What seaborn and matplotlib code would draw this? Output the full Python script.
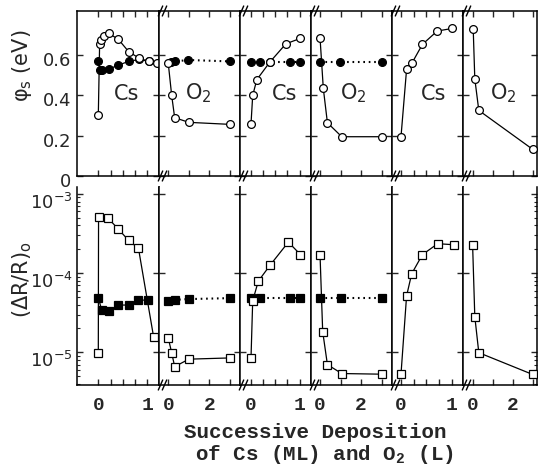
import numpy as np
import pandas as pd
import matplotlib
matplotlib.use("Agg")
import matplotlib.pyplot as plt
from matplotlib.lines import Line2D
from matplotlib.transforms import ScaledTranslation
import seaborn as sns

# ---------------- data ----------------
stage_names = ["Cs", "O2", "Cs", "O2", "Cs", "O2"]
cs_ticks = [0, 0.25, 0.5, 0.75, 1.0]
cs_tick_labels = ["0", "", "", "", "1"]
o2_ticks = [0, 1, 2, 3]
o2_tick_labels = ["0", "", "2", ""]

# top row: surface work-function change phi_s (eV) -- open circles
phi_open_x = [
    [0, 0.027, 0.06, 0.12, 0.21, 0.41, 0.62, 0.84, 1.03, 1.20],
    [0, 0.165, 0.31, 1.0, 3.0],
    [0, 0.035, 0.12, 0.39, 0.72, 1.02],
    [0, 0.16, 0.36, 1.06, 3.0],
    [0, 0.11, 0.22, 0.42, 0.71, 1.01],
    [0.03, 0.11, 0.31, 3.0],
]
phi_open_y = [
    [0.30, 0.653, 0.672, 0.693, 0.705, 0.675, 0.614, 0.581, 0.566, 0.556],
    [0.556, 0.398, 0.288, 0.265, 0.255],
    [0.258, 0.398, 0.476, 0.563, 0.653, 0.680],
    [0.683, 0.433, 0.263, 0.194, 0.194],
    [0.193, 0.527, 0.560, 0.650, 0.716, 0.729],
    [0.728, 0.480, 0.324, 0.132],
]
# top row: filled circles
phi_fill_x = [
    [0, 0.04, 0.08, 0.21, 0.41, 0.62, 0.84, 1.03],
    [0.13, 0.33, 0.97, 3.0],
    [0, 0.19, 0.39, 0.80, 1.0],
    [0, 0.98, 3.0],
    [],
    [],
]
phi_fill_y = [
    [0.566, 0.523, 0.525, 0.527, 0.548, 0.566, 0.576, 0.566],
    [0.563, 0.566, 0.573, 0.566],
    [0.563, 0.563, 0.563, 0.563, 0.563],
    [0.563, 0.563, 0.563],
    [],
    [],
]

# bottom row: (dR/R)_0 -- open squares
dr_open_x = [
    [0, 0.005, 0.19, 0.41, 0.62, 0.82, 1.13],
    [0, 0.165, 0.31, 1.0, 3.0],
    [0, 0.035, 0.15, 0.39, 0.77, 1.02],
    [0, 0.13, 0.36, 1.06, 3.0],
    [0, 0.11, 0.21, 0.42, 0.72, 1.03],
    [0, 0.11, 0.31, 3.0],
]
dr_open_y = [
    [9.9e-6, 5.16e-4, 5.0e-4, 3.58e-4, 2.58e-4, 2.05e-4, 1.55e-5],
    [1.51e-5, 9.9e-6, 6.6e-6, 8.2e-6, 8.5e-6],
    [8.5e-6, 4.47e-5, 7.9e-5, 1.25e-4, 2.46e-4, 1.71e-4],
    [1.71e-4, 1.83e-5, 7.0e-6, 5.4e-6, 5.3e-6],
    [5.26e-6, 5.16e-5, 9.8e-5, 1.71e-4, 2.35e-4, 2.28e-4],
    [2.28e-4, 2.82e-5, 9.9e-6, 5.26e-6],
]
# bottom row: filled squares
dr_fill_x = [
    [0, 0.07, 0.21, 0.41, 0.62, 0.82, 1.02],
    [0, 0.33, 1.0, 3.0],
    [0, 0.19, 0.80, 1.02],
    [0, 1.0, 3.0],
    [],
    [],
]
dr_fill_y = [
    [4.9e-5, 3.4e-5, 3.3e-5, 3.95e-5, 3.95e-5, 4.56e-5, 4.56e-5],
    [4.47e-5, 4.6e-5, 4.7e-5, 4.83e-5],
    [4.83e-5, 4.83e-5, 4.83e-5, 4.83e-5],
    [4.83e-5, 4.83e-5, 4.83e-5],
    [],
    [],
]
fill_solid = [True, False, False, False, False, False]

# ---------------- layout ----------------
W, H = 541, 467
panel_edges = [77, 159, 240, 311, 392, 463, 537]
xlims = [(-0.435, 1.239), (-0.45, 3.48), (-0.227, 1.237),
         (-0.44, 3.51), (-0.176, 1.216), (-0.48, 3.22)]
top_row = (11, 176)
bot_row = (187, 385)

sns.set_style("ticks")
plt.rcParams['font.family'] = ['DejaVu Sans']
plt.rcParams['mathtext.fontset'] = 'custom'
plt.rcParams['mathtext.rm'] = 'Liberation Mono'
plt.rcParams['mathtext.bf'] = 'Liberation Mono:bold'
plt.rcParams['mathtext.sf'] = 'DejaVu Sans'
plt.rcParams['mathtext.it'] = 'DejaVu Sans:italic'

fig = plt.figure(figsize=(W / 100, H / 100), dpi=100)
fig.patch.set_facecolor("white")


def fig_rect(x0, x1, y0, y1):
    return [x0 / W, 1 - y1 / H, (x1 - x0) / W, (y1 - y0) / H]


def draw_series(ax, xs, ys, marker, filled, solid, ms):
    if len(xs) == 0:
        return
    df = pd.DataFrame({"x": xs, "y": ys})
    ls = "-" if solid else (0, (0.8, 1.8))
    lw = 0.9 if solid else 1.5
    sns.lineplot(data=df, x="x", y="y", ax=ax, sort=False, estimator=None,
                 color="black", linewidth=lw, linestyle=ls, marker=marker,
                 markersize=ms, markerfacecolor="black" if filled else "white",
                 markeredgecolor="black", markeredgewidth=0.9,
                 zorder=3 if not filled else 2)


mono = dict(family="Liberation Mono", weight="bold")

for i in range(6):
    x0, x1 = panel_edges[i], panel_edges[i + 1]
    is_cs = stage_names[i] == "Cs"
    ticks = cs_ticks if is_cs else o2_ticks
    labels = cs_tick_labels if is_cs else o2_tick_labels

    # ---- top row ----
    ax = fig.add_axes(fig_rect(x0, x1, *top_row))
    draw_series(ax, phi_fill_x[i], phi_fill_y[i], "o", True, fill_solid[i], 5.6)
    draw_series(ax, phi_open_x[i], phi_open_y[i], "o", False, True, 5.6)
    ax.set_xlim(*xlims[i])
    ax.set_ylim(0, 0.815)
    ax.set_yticks([0, 0.2, 0.4, 0.6])
    ax.set_xticks(ticks)
    ax.set_xticklabels([])
    ax.tick_params(direction="in", length=4, width=1.0, top=True, bottom=True,
                   left=True, right=True, labelsize=13, pad=4)
    if i == 0:
        ax.set_yticklabels(["0", "0.2", "0.4", "0.6"])
        for lab in ax.get_yticklabels():
            lab.set_transform(lab.get_transform() + ScaledTranslation(0, -3 / 72, fig.dpi_scale_trans))
    else:
        ax.set_yticklabels([])
    ax.set_xlabel("")
    ax.set_ylabel("")
    for s in ax.spines.values():
        s.set_linewidth(1.1)
        s.set_color("black")
    name = "Cs" if is_cs else r"O$_\mathsf{2}$"
    txt_x = [0.61, 0.48, 0.63, 0.52, 0.58, 0.54][i]
    ax.text(txt_x, 0.50, name, transform=ax.transAxes, ha="center", va="center",
            fontsize=15, family="DejaVu Sans")

    # ---- bottom row ----
    ax2 = fig.add_axes(fig_rect(x0, x1, *bot_row))
    ax2.set_yscale("log")
    draw_series(ax2, dr_fill_x[i], dr_fill_y[i], "s", True, fill_solid[i], 5.2)
    draw_series(ax2, dr_open_x[i], dr_open_y[i], "s", False, True, 5.2)
    ax2.set_xlim(*xlims[i])
    ax2.set_ylim(3.87e-6, 1.22e-3)
    ax2.set_yticks([1e-5, 1e-4, 1e-3])
    ax2.set_xticks(ticks)
    ax2.set_xticklabels(labels, fontsize=14, **mono)
    ax2.tick_params(axis="x", direction="in", length=4, width=1.0, top=False,
                    bottom=True, pad=9)
    ax2.tick_params(axis="y", which="major", direction="in", length=4, width=1.0,
                    left=True, right=True, labelsize=13, pad=3)
    ax2.tick_params(axis="y", which="minor", direction="in", length=2.5, width=0.8,
                    left=(i == 0), right=(i == 5))
    ax2.tick_params(axis="x", which="minor", bottom=False, top=False)
    if i == 0:
        ax2.set_yticklabels([r"$\mathsf{10^{-5}}$", r"$\mathsf{10^{-4}}$", r"$\mathsf{10^{-3}}$"])
        for lab in ax2.get_yticklabels():
            lab.set_transform(lab.get_transform() + ScaledTranslation(0, -5 / 72, fig.dpi_scale_trans))
    else:
        ax2.set_yticklabels([])
    ax2.yaxis.set_minor_formatter(matplotlib.ticker.NullFormatter())
    ax2.set_xlabel("")
    ax2.set_ylabel("")
    ax2.spines["top"].set_visible(False)
    for s in ax2.spines.values():
        s.set_linewidth(1.1)
        s.set_color("black")


def break_mark(xp, yp):
    for dx in (-1.5, 2.5):
        xc = xp + 3 + dx
        fig.add_artist(Line2D([(xc - 2.2) / W, (xc + 2.2) / W],
                              [1 - (yp + 5) / H, 1 - (yp - 5) / H],
                              color="black", lw=1.0))


for xb in panel_edges[1:-1]:
    break_mark(xb, top_row[0])
    break_mark(xb, top_row[1])
    break_mark(xb, bot_row[1])

fig.text(22 / W, 1 - 66 / H, r"$\mathsf{\varphi_s}$ (eV)", rotation=90,
         ha="center", va="center", fontsize=15, family="DejaVu Sans")
fig.text(22 / W, 1 - 280 / H, r"$\mathsf{(\Delta R/R)_o}$", rotation=90,
         ha="center", va="center", fontsize=15, family="DejaVu Sans")

fig.text(315 / W, 1 - 433 / H, "Successive Deposition", ha="center", va="center",
         fontsize=15, **mono)
fig.text(324 / W, 1 - 455 / H, r"of Cs (ML) and O$_\mathbf{2}$ (L)", ha="center",
         va="center", fontsize=15, **mono)

fig.savefig("out.png", dpi=100, facecolor="white")
